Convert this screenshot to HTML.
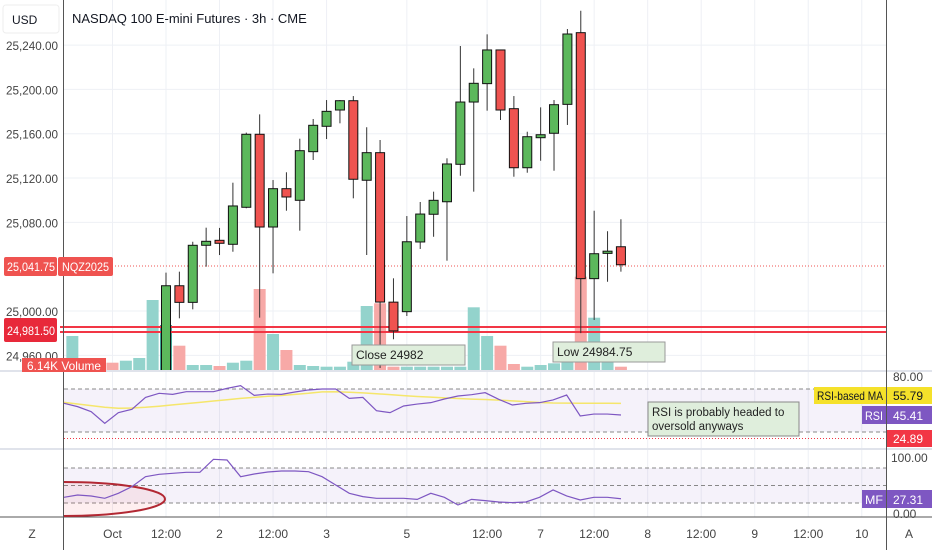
<!DOCTYPE html>
<html><head><meta charset="utf-8"><style>
body{margin:0;background:#fff;}
svg{display:block;font-family:"Liberation Sans",sans-serif;}
</style></head><body>
<svg id="c" width="932" height="550" viewBox="0 0 932 550">
<rect x="0" y="0" width="932" height="550" fill="#fff"/>
<g id="grid"></g>
<g id="vol" clip-path="url(#mainclip)"></g>
<g id="lines"></g>
<g id="candles" clip-path="url(#mainclip)"></g>
<defs>
<clipPath id="mainclip"><rect x="64" y="0" width="822" height="371"/></clipPath>
<clipPath id="mfclip"><rect x="64" y="450" width="822" height="67"/></clipPath>
</defs>
<g id="ind"></g>
<g id="labels"></g>
</svg>
<script>
const priceTicks=[25240,25200,25160,25120,25080,25000,24960];
const timeTickIdx=[-4,0,4,8,12,18,24,28,32,36,40,44,48,52];
const timeTickLabels=["Oct","12:00","2","12:00","3","5","12:00","7","12:00","8","12:00","9","12:00","10"];
const opens=[24940,25022.8,25007.8,25059.3,25063.8,25060.2,25093.6,25159.5,25075.8,25110.4,25099.9,25143.8,25166.7,25181.4,25189.8,25118,25142.9,25008,24999.4,25062.3,25087.3,25098.6,25132.4,25188.6,25205.2,25235.6,25182.6,25129.3,25156.4,25160.4,25186.5,25251.2,25029.2,25052,25058];
const highs=[25034.6,25035.5,25062.5,25075.2,25075,25115.8,25161,25177.5,25118.2,25125.2,25155.5,25173.3,25190.4,25190.4,25194,25165.8,25154.3,25029.5,25085.7,25098.4,25107.7,25137.8,25239.2,25219,25249.7,25235.6,25194,25161.8,25183.8,25190.4,25254.5,25271,25090.5,25072,25082.8];
const lows=[24930,24993.4,25001.5,25040,25050.5,25053.5,25092.7,24994,25034,25090.5,25072.5,25136.3,25155.2,25169.4,25101.7,25050.5,24948.6,24974.5,24995.5,25056,25067,25045.4,25122.1,25107.7,25180.8,25172.4,25121.2,25124.8,25135.6,25126.6,25167.9,24980,24991.9,25026.4,25035.5];
const closes=[25022.8,25007.8,25059.3,25062.9,25061.1,25094.8,25159.5,25075.8,25110.4,25102.9,25144.7,25167.6,25180.2,25189.8,25118.9,25142.9,25008.1,24982,25062.5,25087.5,25099.9,25132.7,25188.6,25205.5,25235.6,25181.4,25129.3,25157.3,25159.1,25186.2,25250,25029.2,25051.7,25054,25041.75];
const volumes=[34,8,6,7.3,9.3,12,70,45,24.3,5,5,4,7.3,9.3,81,36,20,5,4,3.3,3.3,8.3,64,66.7,3.3,3.3,3.3,3.3,3.3,3.3,62.7,34,24.3,6,3.3,5,6.7,8.3,93.3,52.3,8.3,3.3];
const volUp=[1,1,0,0,1,1,1,1,0,1,1,0,1,1,0,1,0,1,1,1,1,1,1,0,0,1,1,1,1,1,1,1,0,0,1,1,1,1,0,1,1,0];
const rsi=[56.7,53.6,48.9,38.1,48.0,51.1,62.2,66.0,65.0,67.5,67.5,67.5,70.6,73.1,64.1,65.3,65.0,67.2,69.1,70,70,61.3,62.2,49.8,48.0,54.2,56.0,57.3,60.7,63.5,64.7,66.6,60.4,55.1,56.7,57.3,59.8,64.4,44.9,46.7,46.7,45.8];
const rsiMA=[57.6,56,54.5,53,52.1,52.3,53,54,55.2,56.4,57.6,58.8,60,61.3,62.2,63.2,64,65,66,67.3,67.4,67,66.4,65.6,64.8,63.8,63,62.4,61.8,61.2,60.6,60.2,59.6,59,58.2,57.4,57,56.9,56.8,56.8,56.7,56.6];
const mf=[29.7,33.7,32,28,36.6,48,65.1,69.2,70.9,72.6,72.6,94.9,93.7,65.1,69.7,73.1,74.9,74.9,73.7,65.1,50.8,36.6,30.9,28,28,28,26.2,36.6,29.7,16.5,26.2,24,21.7,20.6,21.7,29.7,42.3,32,25.1,29.7,29.7,27.3];

const NS="http://www.w3.org/2000/svg";
const xBar=i=>166+i*13.38;
const xInd=k=>64+k*13.585;
const yP=p=>311-(p-25000)*1.108;
const yR=v=>389-(v-70)*1.075;
const yM=v=>468-(v-80)*0.583;
const yV=v=>370-v;
function mk(tag,attrs,parent,text){const e=document.createElementNS(NS,tag);for(const k in attrs)e.setAttribute(k,attrs[k]);if(text!==undefined)e.textContent=text;document.getElementById(parent).appendChild(e);return e;}

priceTicks.forEach(p=>{const l=mk('line',{x1:64,x2:886,y1:yP(p),y2:yP(p),stroke:'#eef0f5'},'grid');


const t=mk('text',{x:6,y:yP(p)+5,'font-size':12,fill:'#444',textLength:52,lengthAdjust:'spacingAndGlyphs'},'labels',p.toLocaleString('en-US',{minimumFractionDigits:2}));

});
timeTickIdx.forEach((ix,k)=>{const x=xBar(ix);const l=mk('line',{x1:x,x2:x,y1:0,y2:517,stroke:'#eef0f5'},'grid');


const t=mk('text',{x:x,y:538,'font-size':12,fill:'#444','text-anchor':'middle'},'labels',timeTickLabels[k]);

});

volumes.forEach((v,k)=>{const i=k-7;const x=xBar(i);let col=volUp[k]?'#93d3cc':'#f7a9a7';if(i===0)col='#3fa596';
const r=mk('rect',{x:x-6,y:yV(v),width:12,height:v,fill:col},'vol');

});

opens.forEach((o,i)=>{const x=xBar(i),c=closes[i];const up=c>=o;
const w=mk('line',{x1:x,x2:x,y1:yP(highs[i]),y2:yP(lows[i]),stroke:'#333','stroke-width':1},'candles');


const top=yP(Math.max(o,c)),h=Math.max(1.5,Math.abs(yP(o)-yP(c)));
const b=mk('rect',{x:x-4.5,y:top,width:9,height:h,fill:up?'#5cb85c':'#ef5350',stroke:'#111','stroke-width':1},'candles');

});
</script>
<script>
(function(){
const L=document.getElementById('lines');
L.innerHTML=`
<line x1="64" x2="886" y1="266" y2="266" stroke="#ef5350" stroke-dasharray="1,2"/>
<line x1="60" x2="886" y1="327" y2="327" stroke="#f23645" stroke-width="2"/>
<line x1="60" x2="886" y1="332" y2="332" stroke="#f23645" stroke-width="2"/>`;
const I=document.getElementById('ind');
I.innerHTML=`
<line x1="0" x2="932" y1="371" y2="371" stroke="#e0e3eb" stroke-width="2"/>
<line x1="0" x2="932" y1="449" y2="449" stroke="#e0e3eb" stroke-width="2"/>
<line x1="0" x2="932" y1="517" y2="517" stroke="#555"/>
<line x1="63.5" x2="63.5" y1="0" y2="550" stroke="#555"/>
<line x1="886.5" x2="886.5" y1="0" y2="550" stroke="#555"/>
<rect x="64" y="389" width="822" height="43" fill="rgba(126,87,194,0.08)"/>
<line x1="64" x2="886" y1="389" y2="389" stroke="#888" stroke-dasharray="4,3"/>
<line x1="64" x2="886" y1="432" y2="432" stroke="#888" stroke-dasharray="4,3"/>
<line x1="64" x2="886" y1="438.5" y2="438.5" stroke="#f23645" stroke-dasharray="1,2"/>
<rect x="64" y="468" width="822" height="35" fill="rgba(126,87,194,0.08)"/>
<line x1="64" x2="886" y1="468" y2="468" stroke="#888" stroke-dasharray="4,3"/>
<line x1="64" x2="886" y1="485.5" y2="485.5" stroke="#888" stroke-dasharray="4,3"/>
<line x1="64" x2="886" y1="503" y2="503" stroke="#888" stroke-dasharray="4,3"/>
<ellipse cx="64" cy="499" rx="101" ry="17" fill="rgba(242,54,69,0.08)" stroke="#b22833" stroke-width="2" clip-path="url(#mfclip)"/>`;
const pts=(arr,fy)=>arr.map((v,k)=>xInd(k)+','+fy(v)).join(' ');
const ma=document.createElementNS("http://www.w3.org/2000/svg",'polyline');
ma.setAttribute('points',pts(rsiMA,yR));ma.setAttribute('fill','none');ma.setAttribute('stroke','#f5e66b');ma.setAttribute('stroke-width','1.5');


I.appendChild(ma);
const rl=document.createElementNS("http://www.w3.org/2000/svg",'polyline');
rl.setAttribute('points',pts(rsi,yR));rl.setAttribute('fill','none');rl.setAttribute('stroke','#7e57c2');rl.setAttribute('stroke-width','1.2');


I.appendChild(rl);
const ml=document.createElementNS("http://www.w3.org/2000/svg",'polyline');
ml.setAttribute('points',pts(mf,yM));ml.setAttribute('fill','none');ml.setAttribute('stroke','#7e57c2');ml.setAttribute('stroke-width','1.2');


I.appendChild(ml);
const T=document.getElementById('labels');
T.insertAdjacentHTML('beforeend',`
<rect x="3" y="5" width="56" height="28" rx="3" fill="#fff" stroke="#eee"/>
<text x="12" y="24" font-size="12" fill="#131722">USD</text>
<text x="72" y="23" font-size="13" fill="#131722">NASDAQ 100 E-mini Futures · 3h · CME</text>
<rect x="4" y="257" width="53" height="19" rx="2" fill="#ef5350"/>
<text x="7" y="271" font-size="12" fill="#fff" textLength="48" lengthAdjust="spacingAndGlyphs">25,041.75</text>
<rect x="58" y="257" width="55" height="19" rx="2" fill="#ef5350"/>
<text x="62" y="271" font-size="12" fill="#fff" textLength="47" lengthAdjust="spacingAndGlyphs">NQZ2025</text>
<rect x="4" y="318" width="53" height="24" rx="2" fill="#e8293a"/>
<text x="7" y="335" font-size="12" fill="#fff" textLength="48" lengthAdjust="spacingAndGlyphs">24,981.50</text>
<rect x="22" y="358" width="84" height="14" fill="#ef5350"/>
<text x="27" y="370" font-size="12" fill="#fff" textLength="74" lengthAdjust="spacingAndGlyphs">6.14K  Volume</text>
<rect x="352" y="345" width="113" height="20" fill="#dfeedc" stroke="#999"/>
<text x="356" y="359" font-size="12" fill="#222">Close 24982</text>
<rect x="553" y="342" width="112" height="20" fill="#dfeedc" stroke="#999"/>
<text x="557" y="356" font-size="12" fill="#222">Low 24984.75</text>
<rect x="648" y="402" width="151" height="34" fill="#dfeedc" stroke="#888"/>
<text x="652" y="416" font-size="11.5" fill="#222">RSI is probably headed to</text>
<text x="652" y="430" font-size="11.5" fill="#222">oversold anyways</text>
<text x="893" y="381" font-size="12" fill="#444">80.00</text>
<rect x="814" y="387" width="72" height="17" fill="#f5e12a"/>
<text x="817" y="400" font-size="12" fill="#131722" textLength="66" lengthAdjust="spacingAndGlyphs">RSI-based MA</text>
<rect x="887" y="387" width="45" height="17" fill="#f5e12a"/>
<text x="893" y="400" font-size="12" fill="#131722">55.79</text>
<rect x="862" y="406" width="24" height="18" fill="#7e57c2"/>
<text x="865" y="420" font-size="12" fill="#fff" textLength="18" lengthAdjust="spacingAndGlyphs">RSI</text>
<rect x="887" y="406" width="45" height="18" fill="#7e57c2"/>
<text x="893" y="420" font-size="12" fill="#fff">45.41</text>
<rect x="887" y="430" width="45" height="17" fill="#f23645"/>
<text x="893" y="443" font-size="12" fill="#fff">24.89</text>
<text x="891" y="462" font-size="12" fill="#444">100.00</text>
<rect x="862" y="490" width="24" height="18" fill="#7e57c2"/>
<text x="865" y="504" font-size="12" fill="#fff" textLength="18" lengthAdjust="spacingAndGlyphs">MF</text>
<rect x="887" y="490" width="45" height="18" fill="#7e57c2"/>
<text x="893" y="504" font-size="12" fill="#fff">27.31</text>
<text x="893" y="518" font-size="12" fill="#444">0.00</text>
<text x="32" y="538" font-size="12" fill="#444" text-anchor="middle">Z</text>
<text x="909" y="538" font-size="12" fill="#444" text-anchor="middle">A</text>`);
})();
</script>
</body></html>
